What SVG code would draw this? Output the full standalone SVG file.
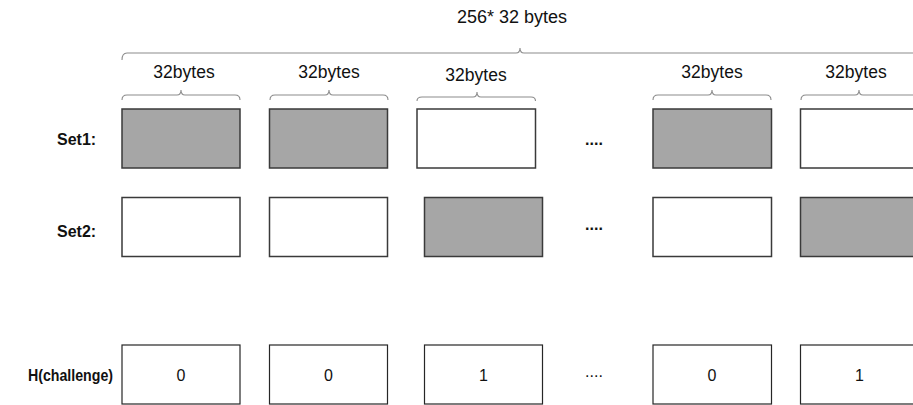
<svg xmlns="http://www.w3.org/2000/svg" width="913" height="405" viewBox="0 0 913 405">
  <style>
    .cell { stroke: #3a3a3a; stroke-width: 1.5; }
    .on { fill: #a6a6a6; }
    .off { fill: #ffffff; }
    .hcell { fill: #ffffff; stroke: #262626; stroke-width: 1.2; }
    .brace { fill: none; stroke: #8c8c8c; stroke-width: 1.1; }
    .lbl { font-family: "Liberation Sans", Arial, sans-serif; font-size: 17.5px; fill: #111; text-anchor: middle; }
    .top { font-family: "Liberation Sans", Arial, sans-serif; font-size: 18px; fill: #111; text-anchor: middle; }
    .row { font-family: "Liberation Sans", Arial, sans-serif; font-size: 16px; font-weight: bold; fill: #111; }
    .dots { font-family: "Liberation Sans", Arial, sans-serif; font-size: 16px; font-weight: bold; fill: #111; text-anchor: middle; }
    .bit { font-family: "Liberation Sans", Arial, sans-serif; font-size: 16px; fill: #111; text-anchor: middle; }
  </style>
  <rect width="913" height="405" fill="#ffffff"/>

  <!-- size annotations -->
  <g id="braces">
    <text class="top" x="512" y="23">256* 32 bytes</text>
    <path class="brace" d="M122,60 Q122,53 127,53 L516,53 Q520,53 520,48 Q520,53 524,53 L930,53"/>

    <text class="lbl" x="184" y="77.7">32bytes</text>
    <path class="brace" d="M122,100 Q122,95 127,95 L177,95 Q181,95 181,90 Q181,95 185,95 L235,95 Q240,95 240,100"/>

    <text class="lbl" x="329" y="77.7">32bytes</text>
    <path class="brace" d="M270,100 Q270,95 275,95 L325,95 Q329,95 329,90 Q329,95 333,95 L383,95 Q388,95 388,100"/>

    <text class="lbl" x="476" y="81">32bytes</text>
    <path class="brace" d="M417,101 Q417,97 422,97 L473,97 Q477,97 477,92 Q477,97 481,97 L531,97 Q535.5,97 535.5,101"/>

    <text class="lbl" x="712" y="77.7">32bytes</text>
    <path class="brace" d="M653,100 Q653,95 658,95 L708,95 Q712,95 712,90 Q712,95 716,95 L766,95 Q771,95 771,100"/>

    <text class="lbl" x="856" y="77.7">32bytes</text>
    <path class="brace" d="M801,100 Q801,95 806,95 L855,95 Q859,95 859,90 Q859,95 863,95 L930,95"/>
  </g>

  <!-- Set1 row -->
  <g id="set1">
    <text class="row" x="57" y="145">Set1:</text>
    <g id="set1-c1"><rect class="cell on" x="122" y="109" width="118" height="59"/></g>
    <g id="set1-c2"><rect class="cell on" x="269.5" y="109" width="118" height="59"/></g>
    <g id="set1-c3"><rect class="cell off" x="417" y="109" width="118.5" height="59"/></g>
    <text class="dots" x="594" y="145">....</text>
    <g id="set1-c4"><rect class="cell on" x="653" y="109" width="118.5" height="59"/></g>
    <g id="set1-c5"><rect class="cell off" x="800.5" y="109" width="118" height="59"/></g>
  </g>

  <!-- Set2 row -->
  <g id="set2">
    <text class="row" x="57" y="236.5">Set2:</text>
    <g id="set2-c1"><rect class="cell off" x="122" y="197.5" width="118" height="59"/></g>
    <g id="set2-c2"><rect class="cell off" x="269.5" y="197.5" width="118" height="59"/></g>
    <g id="set2-c3"><rect class="cell on" x="424.5" y="197.5" width="118" height="59"/></g>
    <text class="dots" x="594" y="229.5">....</text>
    <g id="set2-c4"><rect class="cell off" x="653" y="197.5" width="118.5" height="59"/></g>
    <g id="set2-c5"><rect class="cell on" x="800.5" y="197.5" width="118" height="59"/></g>
  </g>

  <!-- challenge hash bits -->
  <g id="hchallenge">
    <text class="row" x="28" y="381" textLength="85" lengthAdjust="spacingAndGlyphs">H(challenge)</text>
    <g id="h-c1"><rect class="hcell" x="122" y="345" width="118" height="59"/><text class="bit" x="181" y="381">0</text></g>
    <g id="h-c2"><rect class="hcell" x="269.5" y="345" width="118" height="59"/><text class="bit" x="328.5" y="381">0</text></g>
    <g id="h-c3"><rect class="hcell" x="424.5" y="345" width="118" height="59"/><text class="bit" x="483.5" y="381">1</text></g>
    <text class="bit" x="594" y="376.5">....</text>
    <g id="h-c4"><rect class="hcell" x="653" y="345" width="118.5" height="59"/><text class="bit" x="712" y="381">0</text></g>
    <g id="h-c5"><rect class="hcell" x="800.5" y="345" width="118" height="59"/><text class="bit" x="859.5" y="381">1</text></g>
  </g>
</svg>
